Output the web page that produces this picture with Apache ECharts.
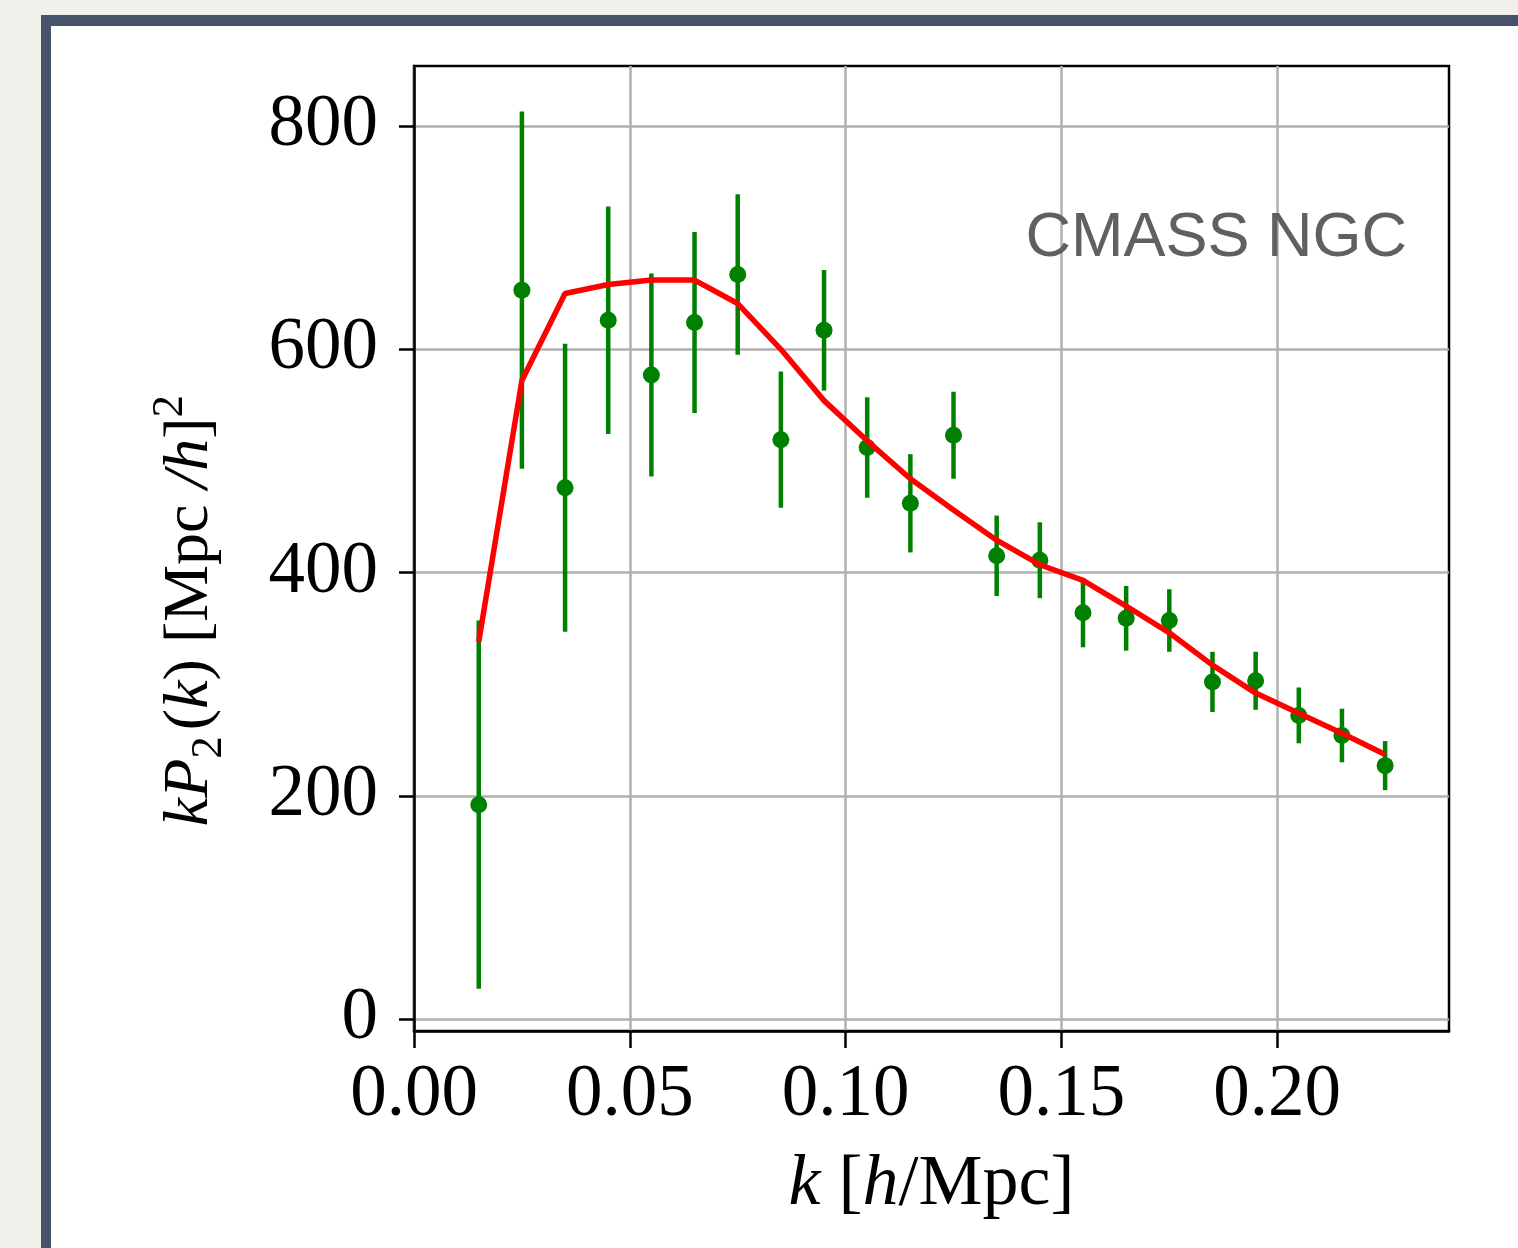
<!DOCTYPE html>
<html>
<head>
<meta charset="utf-8">
<script src="https://cdn.jsdelivr.net/npm/echarts@6/dist/echarts.min.js"></script>
<style>
  html, body { margin:0; padding:0; width:1518px; height:1248px; background:#f0f0eb; overflow:hidden; }
  #frame { position:absolute; left:41px; top:15px; width:1500px; height:1260px; background:#ffffff;
           border-left:10px solid #46546a; border-top:11px solid #46546a; }
  #chart { position:absolute; left:0; top:0; width:1518px; height:1248px; }
</style>
</head>
<body>
<div id="frame"></div>
<div id="chart"></div>
<script>
// ---- data ----
var kValues   = [0.015, 0.025, 0.035, 0.045, 0.055, 0.065, 0.075, 0.085, 0.095, 0.105, 0.115,
                 0.125, 0.135, 0.145, 0.155, 0.165, 0.175, 0.185, 0.195, 0.205, 0.215, 0.225];
var kP2Data   = [192, 653, 476, 626, 577, 624, 667, 519, 617, 512, 462,
                 523, 415, 411, 364, 359, 357, 302, 303, 272, 254, 227];
var kP2Err    = [165, 160, 129, 102, 91, 81, 72, 61, 54, 45, 44,
                 39, 36, 34, 31, 29, 28, 27, 26, 25, 24, 22];
var kP2Model  = [338, 572, 650, 658, 662, 662, 641, 600, 554, 518, 484,
                 456, 429, 407, 393, 370, 346, 317, 292, 274, 256, 237];
var xTicks    = [0, 0.05, 0.10, 0.15, 0.20];
var yTicks    = [0, 200, 400, 600, 800];
var annotation = 'CMASS NGC';

var serif = '"Liberation Serif", "DejaVu Serif", serif';

var pointData = kValues.map(function (k, i) { return [k, kP2Data[i]]; });
var errData   = kValues.map(function (k, i) { return [k, kP2Data[i] - kP2Err[i], kP2Data[i] + kP2Err[i]]; });
var modelData = kValues.map(function (k, i) { return [k, kP2Model[i]]; });

var chart = echarts.init(document.getElementById('chart'), null, { renderer: 'canvas' });

var option = {
  backgroundColor: 'transparent',
  animation: false,
  grid: { left: 414, top: 66, right: 69, bottom: 217, show: true, borderColor: '#000', borderWidth: 2.5,
          backgroundColor: 'transparent' },
  graphic: [{
    type: 'text', x: 1407, y: 239, z: 100,
    style: { text: annotation, textAlign: 'right', textVerticalAlign: 'middle',
             fontSize: 63, fontFamily: '"Liberation Sans", Arial, sans-serif', fill: '#606060' }
  }],
  xAxis: {
    type: 'value', min: 0, max: 0.2398,
    axisLine: { show: true, onZero: false, lineStyle: { color: '#000', width: 2.5 } },
    axisTick: { show: true, inside: false, length: 17, customValues: xTicks, lineStyle: { color: '#000', width: 2.5 } },
    axisLabel: { customValues: xTicks, margin: 28, fontFamily: serif, fontSize: 73, color: '#000',
                 formatter: function (v) { return v.toFixed(2); } },
    splitLine: { show: true, lineStyle: { color: '#b0b0b0', width: 2.5 } },
    name: '{i|k}{n| [}{i|h}{n|/Mpc]}',
    nameLocation: 'middle', nameGap: 154,
    nameTextStyle: {
      verticalAlign: 'middle',
      rich: {
        i: { fontFamily: serif, fontStyle: 'italic', fontSize: 72, color: '#000' },
        n: { fontFamily: serif, fontSize: 72, color: '#000' }
      }
    }
  },
  yAxis: {
    type: 'value', min: -10.75, max: 853.8,
    axisLine: { show: true, onZero: false, lineStyle: { color: '#000', width: 2.5 } },
    axisTick: { show: true, inside: false, length: 15, customValues: yTicks, lineStyle: { color: '#000', width: 2.5 } },
    axisLabel: { customValues: yTicks, margin: 36, fontFamily: serif, fontSize: 73, color: '#000' },
    splitLine: { show: true, lineStyle: { color: '#b0b0b0', width: 2.5 } },
    name: '{i|kP}{sub|2}{n|(}{i|k}{n|) [Mpc }{i|/h}{n|]}{sup|2}',
    nameLocation: 'middle', nameGap: 224, nameRotate: 90,
    nameTextStyle: {
      verticalAlign: 'middle',
      padding: [0, 124, 0, 0],
      rich: {
        i: { fontFamily: serif, fontStyle: 'italic', fontSize: 64, color: '#000', lineHeight: 84 },
        n: { fontFamily: serif, fontSize: 64, color: '#000', lineHeight: 84 },
        sub: { fontFamily: serif, fontSize: 45, color: '#000', verticalAlign: 'bottom', lineHeight: 84, padding: [0, 6, 0, 0] },
        sup: { fontFamily: serif, fontSize: 45, color: '#000', verticalAlign: 'top', lineHeight: 84 }
      }
    }
  },
  series: [
    {
      type: 'custom', name: 'errors', z: 2,
      data: errData,
      encode: { x: 0, y: [1, 2] },
      renderItem: function (params, api) {
        var x = api.value(0);
        var p1 = api.coord([x, api.value(1)]);
        var p2 = api.coord([x, api.value(2)]);
        return { type: 'line', shape: { x1: p1[0], y1: p1[1], x2: p2[0], y2: p2[1] },
                 style: { stroke: '#008000', lineWidth: 4.5, lineCap: 'butt' } };
      }
    },
    {
      type: 'scatter', name: 'data', z: 3,
      data: pointData, symbol: 'circle', symbolSize: 17,
      itemStyle: { color: '#008000', opacity: 1 }
    },
    {
      type: 'line', name: 'model', z: 4,
      data: modelData, showSymbol: false, symbol: 'none',
      lineStyle: { color: '#ff0000', width: 5.5 }
    }
  ]
};
chart.setOption(option);
</script>
</body>
</html>
